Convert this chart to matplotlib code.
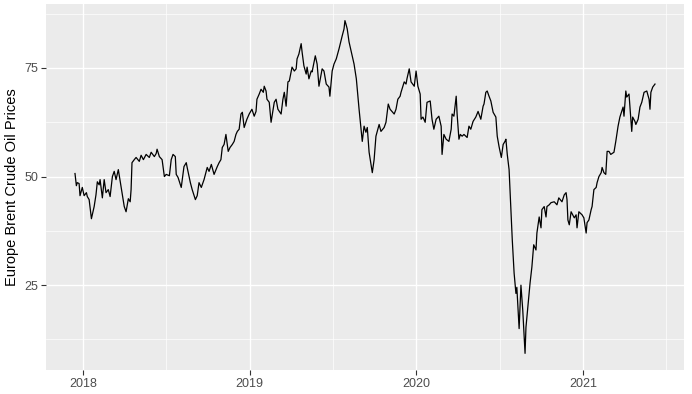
import numpy as np
import pandas as pd
import matplotlib
matplotlib.use("Agg")
import matplotlib.pyplot as plt
import matplotlib.dates as mdates

# days since 2018-01-01
day_offsets = [
    -18, -15, -13, -9, -7, -2, 2, 7, 9, 13, 18, 24, 28, 31, 35, 37, 42, 46, 50, 55,
    59, 64, 68, 72, 77, 83, 90, 94, 99, 103, 105, 107, 112, 116, 123, 127, 132, 138, 145, 149,
    156, 160, 162, 167, 173, 178, 182, 189, 193, 197, 202, 204, 208, 215, 221, 226, 228, 235, 239, 246,
    250, 254, 259, 265, 272, 276, 281, 287, 294, 298, 302, 305, 309, 313, 318, 322, 327, 331, 335, 338,
    342, 346, 349, 353, 359, 364, 370, 375, 379, 381, 386, 390, 395, 397, 401, 403, 408, 412, 419, 423,
    427, 434, 438, 441, 445, 449, 452, 458, 463, 467, 469, 473, 478, 480, 484, 489, 491, 495, 500, 502,
    509, 513, 517, 524, 528, 533, 539, 541, 546, 550, 555, 561, 568, 572, 574, 576, 579, 583, 590, 594,
    599, 605, 612, 616, 620, 623, 627, 634, 638, 642, 649, 653, 660, 664, 669, 673, 677, 682, 686, 690,
    695, 697, 704, 708, 710, 715, 719, 726, 730, 734, 739, 741, 745, 750, 754, 761, 765, 769, 774, 780,
    785, 787, 791, 796, 802, 807, 809, 813, 818, 820, 824, 827, 831, 835, 842, 846, 850, 855, 861, 866,
    872, 877, 879, 883, 886, 890, 894, 899, 905, 908, 912, 917, 921, 925, 927, 930, 934, 938, 941, 943,
    945, 947, 949, 951, 956, 960, 962, 964, 969, 971, 975, 980, 984, 988, 993, 995, 1000, 1004, 1006, 1011,
    1015, 1017, 1022, 1026, 1033, 1039, 1043, 1050, 1055, 1059, 1061, 1063, 1066, 1070, 1077, 1081, 1083, 1087, 1094, 1098,
    1103, 1105, 1109, 1114, 1116, 1120, 1125, 1127, 1131, 1136, 1138, 1142, 1146, 1149, 1153, 1157, 1164, 1168, 1173, 1177,
    1181, 1184, 1186, 1190, 1192, 1197, 1201, 1203, 1205, 1210, 1212, 1217, 1221, 1225, 1230, 1236, 1241, 1243, 1245, 1249,
    1254,
]
brent = [
    50.7, 47.9, 48.6, 48.4, 45.6, 47.5, 45.6, 46.3, 45.4, 44.7, 40.3, 43.1, 45.8, 48.8, 48.1, 49.3, 45.1, 49.3, 46.3, 47.0,
    45.4, 50.0, 51.2, 49.3, 51.6, 47.7, 43.1, 41.9, 44.9, 44.2, 47.0, 53.2, 53.9, 54.4, 53.5, 54.9, 53.9, 55.1, 54.4, 55.6,
    54.6, 55.3, 56.3, 54.6, 53.9, 50.0, 50.5, 50.2, 53.9, 55.1, 54.6, 50.5, 49.8, 47.5, 52.3, 53.2, 52.1, 48.6, 47.0, 44.7,
    45.6, 48.6, 47.5, 49.3, 52.1, 51.2, 52.8, 50.5, 52.3, 53.2, 53.9, 56.7, 57.4, 59.7, 55.8, 56.7, 57.4, 58.1, 59.7, 60.4,
    60.9, 64.4, 64.8, 61.3, 63.2, 64.4, 65.5, 63.9, 65.0, 67.8, 69.0, 70.1, 69.4, 70.8, 69.7, 67.8, 67.1, 62.5, 67.1, 67.8,
    65.5, 64.4, 67.8, 69.4, 66.2, 71.8, 72.0, 75.2, 74.3, 74.8, 77.1, 78.2, 80.6, 78.7, 75.5, 73.6, 75.2, 72.5, 74.3, 74.1,
    77.8, 75.9, 70.8, 74.8, 74.3, 71.3, 70.6, 68.5, 74.3, 75.9, 77.1, 79.4, 82.4, 84.0, 85.9, 85.2, 84.0, 81.0, 77.8, 75.9,
    72.5, 65.5, 58.1, 61.6, 60.2, 61.3, 55.6, 50.9, 53.9, 59.3, 62.0, 60.4, 61.3, 62.5, 66.7, 65.5, 65.0, 64.4, 65.5, 67.8,
    68.5, 69.4, 71.8, 71.3, 72.5, 74.8, 71.8, 70.8, 74.3, 70.8, 69.0, 63.2, 63.7, 62.5, 67.1, 67.4, 63.2, 60.9, 63.2, 63.9,
    61.6, 55.1, 59.7, 58.6, 58.1, 60.9, 64.4, 63.9, 68.5, 64.4, 58.6, 59.7, 59.3, 59.7, 59.0, 61.6, 60.9, 62.7, 63.7, 65.0,
    63.2, 66.2, 66.7, 69.4, 69.7, 68.5, 67.4, 64.8, 63.7, 59.3, 56.9, 54.4, 57.4, 58.1, 58.6, 55.1, 51.6, 42.4, 35.4, 31.5,
    27.8, 25.5, 23.1, 24.5, 15.0, 25.0, 22.2, 19.2, 9.3, 15.3, 19.9, 25.5, 29.2, 34.3, 33.1, 37.0, 40.7, 38.2, 42.4, 43.1,
    40.7, 43.1, 43.5, 44.0, 44.2, 43.5, 45.1, 44.2, 45.8, 46.3, 44.7, 40.0, 38.9, 41.9, 40.5, 41.2, 38.2, 41.9, 41.2, 40.5,
    37.0, 39.4, 40.0, 42.4, 43.1, 47.0, 47.5, 48.6, 50.0, 50.9, 52.1, 50.9, 50.5, 55.8, 55.8, 55.1, 55.6, 58.1, 61.6, 63.7,
    65.0, 66.0, 63.9, 69.7, 68.3, 69.0, 63.2, 60.4, 63.7, 62.7, 62.0, 63.2, 66.0, 67.1, 69.4, 69.7, 67.8, 65.5, 69.4, 70.6,
    71.3,
]
year_ticks = ["2018", "2019", "2020", "2021"]
y_ticks = [25, 50, 75]

dates = pd.Timestamp("2018-01-01") + pd.to_timedelta(day_offsets, unit="D")

plt.rcParams["font.family"] = ["Liberation Sans", "DejaVu Sans"]

fig = plt.figure(figsize=(6.92, 3.94), dpi=100)
ax = fig.add_axes([46 / 692, 1 - 370 / 394, 638 / 692, 366 / 394])
ax.set_facecolor("#EBEBEB")

ax.plot(dates, brent, color="black", linewidth=0.9, zorder=3)

# ggplot-like 5% expansion
x0, x1 = mdates.date2num(dates.min()), mdates.date2num(dates.max())
pad = (x1 - x0) * 0.05
ax.set_xlim(x0 - pad, x1 + pad)
lo, hi = min(brent), max(brent)
ypad = (hi - lo) * 0.05
ax.set_ylim(lo - ypad, hi + ypad)

xt = [mdates.date2num(pd.Timestamp(y + "-01-01")) for y in year_ticks]
ax.set_xticks(xt)
ax.set_xticklabels(year_ticks)
ax.set_xticks([mdates.date2num(pd.Timestamp(f"{int(y)}-07-02")) for y in year_ticks], minor=True)
ax.set_yticks(y_ticks)
ax.set_yticks([12.5, 37.5, 62.5, 87.5], minor=True)

ax.grid(which="major", color="white", linewidth=1.0)
ax.grid(which="minor", color="white", linewidth=0.5)
ax.set_axisbelow(True)
for s in ax.spines.values():
    s.set_visible(False)

ax.tick_params(which="major", length=3.5, width=0.8, color="#333333",
               labelcolor="#4D4D4D", labelsize=9, pad=2)
ax.tick_params(which="minor", length=0)

ax.set_ylabel("Europe Brent Crude Oil Prices", fontsize=10.5, color="black", labelpad=4)

fig.savefig("out.png", dpi=100)
